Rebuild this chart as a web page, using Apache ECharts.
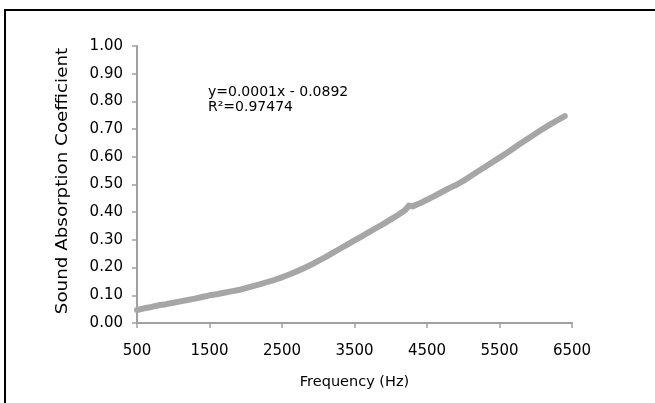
<!DOCTYPE html>
<html>
<head>
<meta charset="utf-8">
<style>
  html, body { margin: 0; padding: 0; background: #fff; }
  #chart { width: 655px; height: 403px; }
</style>
<script src="https://cdn.jsdelivr.net/npm/echarts@6/dist/echarts.min.js"></script>
</head>
<body>
<div id="chart"></div>
<script>
// Measured frequency (Hz) and sound absorption coefficient
const frequency = [
  500, 600, 700, 800, 900, 1000, 1100, 1200, 1300, 1400,
  1500, 1600, 1700, 1800, 1900, 2000, 2100, 2200, 2300, 2400,
  2500, 2600, 2700, 2800, 2900, 3000, 3100, 3200, 3300, 3400,
  3500, 3600, 3700, 3800, 3900, 4000, 4100, 4200, 4250, 4300,
  4400, 4500, 4600, 4700, 4800, 4900, 5000, 5100, 5200, 5300,
  5400, 5500, 5600, 5700, 5800, 5900, 6000, 6100, 6200, 6300, 6400
];
const absorption = [
  0.047, 0.053, 0.058, 0.064, 0.068, 0.073, 0.078, 0.083, 0.088, 0.094,
  0.100, 0.104, 0.109, 0.114, 0.119, 0.126, 0.133, 0.140, 0.148, 0.156,
  0.165, 0.175, 0.186, 0.198, 0.210, 0.224, 0.238, 0.253, 0.268, 0.283,
  0.298, 0.313, 0.328, 0.343, 0.358, 0.374, 0.390, 0.408, 0.424, 0.421,
  0.432, 0.445, 0.458, 0.472, 0.486, 0.498, 0.513, 0.530, 0.547, 0.563,
  0.580, 0.597, 0.614, 0.632, 0.650, 0.667, 0.684, 0.701, 0.717, 0.732, 0.747
];
const xTitle = 'Frequency (Hz)';
const yTitle = 'Sound Absorption Coefficient';
const fitLines = ['y=0.0001x - 0.0892', 'R\u00B2=0.97474'];

const chart = echarts.init(document.getElementById('chart'));
const font = 'DejaVu Sans';
const axisGrey = '#A0A0A0';
const gridBox = { left: 137, right: 83, top: 46, bottom: 80 };

chart.setOption({
  animation: false,
  backgroundColor: '#ffffff',
  grid: gridBox,
  xAxis: {
    type: 'value',
    min: 500, max: 6500, interval: 1000,
    name: xTitle,
    nameLocation: 'middle',
    nameGap: 52,
    nameTextStyle: { fontFamily: font, fontSize: 14.5, color: '#000' },
    axisLine: { show: true, lineStyle: { color: axisGrey, width: 2 } },
    axisTick: { show: true, inside: false, length: 5, lineStyle: { color: axisGrey, width: 1.5 } },
    axisLabel: {
      fontFamily: font, fontSize: 15, color: '#000', margin: 21,
      formatter: v => String(v)
    },
    splitLine: { show: false }
  },
  yAxis: {
    type: 'value',
    min: 0, max: 1, interval: 0.1,
    axisLine: { show: true, lineStyle: { color: axisGrey, width: 2 } },
    axisTick: { show: true, inside: false, length: 5, lineStyle: { color: axisGrey, width: 1.5 } },
    axisLabel: {
      fontFamily: font, fontSize: 15, color: '#000', margin: 14,
      formatter: v => v.toFixed(2)
    },
    splitLine: { show: false }
  },
  series: [{
    type: 'line',
    data: frequency.map((f, i) => [f, absorption[i]]),
    showSymbol: false,
    symbol: 'none',
    lineStyle: { color: '#A6A6A6', width: 6, cap: 'round', join: 'round' },
    z: 3
  }],
  graphic: [
    {
      type: 'rect',
      shape: { x: 5, y: 10, width: 800, height: 600 },
      style: { fill: 'none', stroke: '#000', lineWidth: 2 },
      silent: true
    },
    {
      // vertical axis title, stretched along its length
      type: 'text',
      x: 63, y: 181,
      rotation: Math.PI / 2,
      scaleX: 1.22,
      style: {
        text: yTitle,
        fontFamily: font, fontSize: 15, fill: '#000',
        align: 'center', verticalAlign: 'middle'
      }
    },
    {
      type: 'text',
      left: 208, top: 85,
      style: {
        text: fitLines.join('\n'),
        fontFamily: font, fontSize: 14, fill: '#000', lineHeight: 15
      }
    }
  ]
});
</script>
</body>
</html>
